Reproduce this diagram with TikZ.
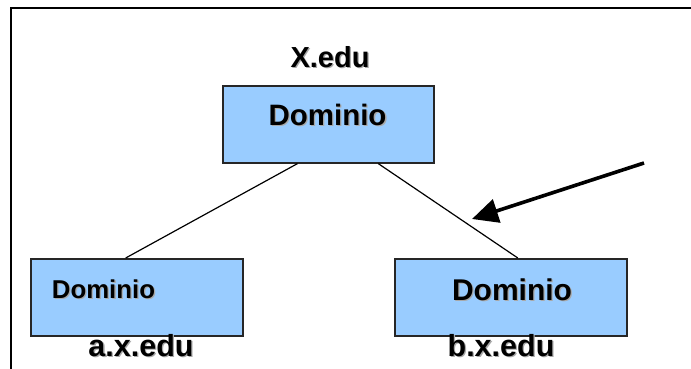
\documentclass[tikz,border=0pt]{standalone}
\usepackage{fontspec}
\setmainfont{Liberation Sans}
\usetikzlibrary{arrows.meta,calc}
\definecolor{boxblue}{HTML}{99CCFF}
\definecolor{shadowgray}{HTML}{A8A8A8}
\tikzset{
  dombox/.style={draw=black!85,line width=1.6pt,fill=boxblue,inner sep=0pt,anchor=north west},
  lbl/.style={inner sep=0pt,anchor=base,font=\bfseries},
  lblshadow/.style={lbl,text=shadowgray},
  link/.style={line width=1.2pt,black},
  pointer/.style={line width=3.6pt,black,-{Triangle[length=26pt,width=24pt]}},
  frame/.style={line width=2pt,black}
}
\newcommand{\shlabel}[4]{% name, x, y, font size + text
  \node[lblshadow] (#1s) at (#2+1.3,#3+1.3) {#4};
  \node[lbl] (#1) at (#2,#3) {#4};}
\begin{document}
\begin{tikzpicture}[x=1pt,y=-1pt]
\useasboundingbox (0,0) rectangle (691,369);
\fill[white] (0,0) rectangle (691,369);
% frame
\coordinate (fbl) at (10.5,372);
\coordinate (ftl) at (10.5,8.5);
\coordinate (ftr) at (694,8.5);
\draw[frame] (fbl) -- (ftl) -- (ftr);
% boxes
\node[dombox,minimum width=211pt,minimum height=77pt] (top) at (222,85) {};
\node[dombox,minimum width=212pt,minimum height=77pt] (left) at (30,258) {};
\node[dombox,minimum width=232pt,minimum height=77pt] (right) at (394,258) {};
% connectors
\draw[link] ($(top.south west)!0.355!(top.south east)$) -- ($(left.north west)!0.448!(left.north east)$);
\draw[link] ($(top.south west)!0.735!(top.south east)$) -- ($(right.north west)!0.53!(right.north east)$);
% arrow
\coordinate (arrstart) at (644,163);
\coordinate (arrtip) at (472,219);
\draw[pointer] (arrstart) -- (arrtip);
% labels
\shlabel{xedu}{330}{67}{\fontsize{29}{29}\selectfont X.edu}
\shlabel{topdom}{327.5}{125}{\fontsize{29.5}{29.5}\selectfont Dominio}
\shlabel{leftdom}{103.5}{298}{\fontsize{25.8}{25.8}\selectfont Dominio}
\shlabel{rightdom}{512}{300}{\fontsize{30}{30}\selectfont Dominio}
\shlabel{axedu}{141}{356}{\fontsize{30.5}{30.5}\selectfont a.x.edu}
\shlabel{bxedu}{501}{356}{\fontsize{30.5}{30.5}\selectfont b.x.edu}
\end{tikzpicture}
\end{document}
